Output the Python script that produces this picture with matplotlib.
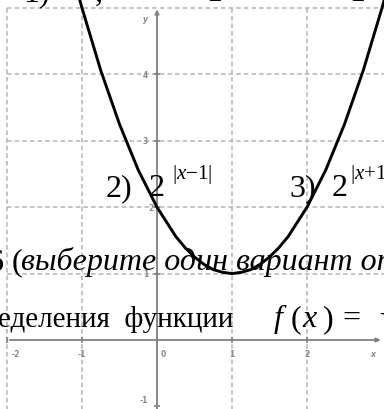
import numpy as np
import matplotlib
matplotlib.use("Agg")
import matplotlib.pyplot as plt
import matplotlib.transforms as mtransforms

plt.rcParams["mathtext.fontset"] = "custom"
plt.rcParams["mathtext.rm"] = "Liberation Serif"
plt.rcParams["mathtext.it"] = "Liberation Serif:italic"

""" data read off the picture """
curve_x = [-1.1, -1.0, -0.75, -0.5, -0.25, 0.0, 0.25, 0.375, 0.5, 0.625, 0.75, 0.875, 1.0,
           1.125, 1.25, 1.375, 1.5, 1.625, 1.75, 2.0, 2.25, 2.5, 2.75, 3.0, 3.1]
curve_y = [5.41, 5.0, 4.06, 3.25, 2.56, 2.0, 1.56, 1.39, 1.25, 1.14, 1.06, 1.02, 1.0,
           1.02, 1.06, 1.14, 1.25, 1.39, 1.56, 2.0, 2.56, 3.25, 4.06, 5.0, 5.41]
x_ticks = [-2, -1, 0, 1, 2]
x_tick_labels = ["-2", "-1", "0", "1", "2"]
y_ticks = [-1, 1, 2, 3, 4]
y_tick_labels = ["-1", "1", "2", "3", "4"]
grid_x = [-2, -1, 1, 2]
grid_y = [1, 2, 3, 4, 5]

W, H = 384, 410
fig = plt.figure(figsize=(W / 100, H / 100), dpi=100)
ax = fig.add_axes([0, 0, 1, 1])
ax.set_xlim(-157 / 75, 227 / 75)
ax.set_ylim(-69 / 66.4, 341 / 66.4)
ax.axis("off")

""" grid """
grid_kw = dict(color="#b4b4b4", lw=1.1, ls=(0, (3, 2)), zorder=1)
for gx in grid_x:
    ax.plot([gx, gx], [-1.2, 5], **grid_kw)
for gy in grid_y:
    ax.plot([-2, 3.2], [gy, gy], **grid_kw)

""" axes with arrows """
axis_col = "#808080"
ax.annotate("", xy=(3.02, 0), xytext=(-2, 0),
            arrowprops=dict(arrowstyle="-|>", color=axis_col, lw=1.3, mutation_scale=6), zorder=2)
ax.annotate("", xy=(0, 5.02), xytext=(0, -1.2),
            arrowprops=dict(arrowstyle="-|>", color=axis_col, lw=1.3, mutation_scale=6), zorder=2)
ax.plot(x_ticks, [0] * len(x_ticks), ls="none", marker="|", ms=4, color=axis_col, mew=1.2, zorder=2)
ax.plot([0] * len(y_ticks), y_ticks, ls="none", marker="_", ms=4, color=axis_col, mew=1.2, zorder=2)

lab_kw = dict(fontsize=5.5, color="#8a8a8a", family="DejaVu Sans", fontweight="bold")
for v, s in zip(x_ticks, x_tick_labels):
    dx = 0.12 if v == -2 else (0.08 if v == 0 else 0)
    ax.text(v + dx, -0.2, s, ha="center", va="center", **lab_kw)
ax.text(2.87, -0.2, "x", ha="center", va="center", style="italic", **lab_kw)
for v, s in zip(y_ticks, y_tick_labels):
    dx = -0.05 if v == 2 else -0.12
    dy = 0.1 if v == -1 else 0
    ax.text(dx, v + dy, s, ha="right", va="center", **lab_kw)
ax.text(-0.12, 4.84, "y", ha="right", va="center", style="italic", **lab_kw)

""" parabola """
ax.plot(curve_x, curve_y, color="black", lw=2.1, solid_capstyle="round", zorder=4)

""" overlapping page text, pixel coordinates """
pix = mtransforms.Affine2D().scale(1 / W, -1 / H).translate(0, 1) + fig.transFigure
serif = "Liberation Serif"
big = 23
small = 15

def put(x, y, s, size=big, style="normal"):
    fig.text(x, y, s, transform=pix, family=serif, fontsize=size, style=style,
             ha="left", va="baseline", color="black", zorder=5)

# bottoms of the previous line
put(23, 1, "1)")
put(95, 1, ",")
put(206, 1, "1")
put(349, 1, "1")

put(106, 196, "2)")
put(149, 196, "2")
put(172, 179, r"$|x{-}1|$", size=small)
put(289, 196, "3)")
put(332, 196, "2")
put(350, 179, r"$|x{+}1|$", size=small)

put(-12, 270, "6 (")
put(21, 270, "выберите один вариант ответа)", style="italic")

put(-2, 327, "еделения  функции", size=21)
put(274, 327, "f", style="italic")
put(291, 327, "(")
put(302, 327, "x", style="italic")
put(323, 327, ")")
put(342, 327, "=")
put(379, 327, "√")

fig.savefig("out.png", dpi=100)
